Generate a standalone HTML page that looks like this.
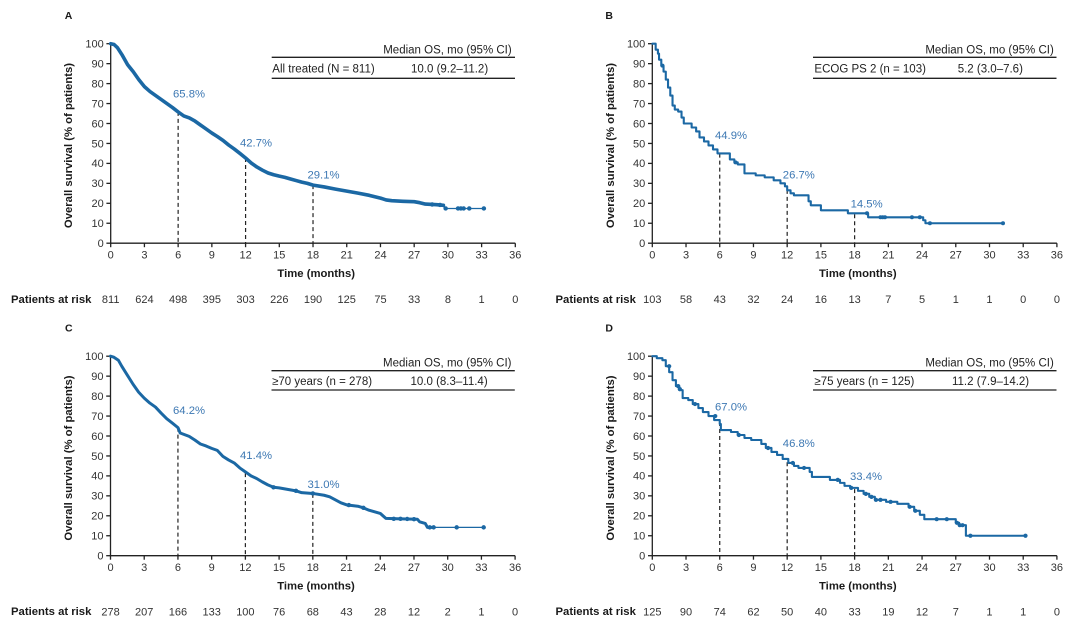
<!DOCTYPE html>
<html><head><meta charset="utf-8"><style>
html,body{margin:0;padding:0;background:#fff;}
svg{display:block;}
text{font-family:"Liberation Sans",Arial,sans-serif;}
.tk{font-size:11px;fill:#333;}
.b{font-weight:bold;font-size:11.3px;fill:#1a1a1a;}
.lg{font-size:11.5px;fill:#222;}
.an{font-size:11.3px;fill:#3d78b3;}
.ax{stroke:#222;stroke-width:1.3;fill:none;}
.ds{stroke:#222;stroke-width:1.2;stroke-dasharray:4,3;fill:none;}
.cv{fill:none;stroke:#1b68a4;stroke-linejoin:round;stroke-linecap:round;}
.mk{fill:#1b68a4;}
</style></head><body>
<svg width="1080" height="627" viewBox="0 0 1080 627" xmlns="http://www.w3.org/2000/svg">
<rect width="1080" height="627" fill="#fff"/>
<defs>
<g id="axes">
  <line class="ax" x1="0" y1="0.6" x2="0" y2="-200"/>
  <line class="ax" x1="-0.6" y1="0" x2="404.6" y2="0"/>
  <g class="ax">
    <line x1="-4.3" y1="0" x2="0" y2="0"/><line x1="-4.3" y1="-19.95" x2="0" y2="-19.95"/><line x1="-4.3" y1="-39.9" x2="0" y2="-39.9"/><line x1="-4.3" y1="-59.85" x2="0" y2="-59.85"/><line x1="-4.3" y1="-79.8" x2="0" y2="-79.8"/><line x1="-4.3" y1="-99.75" x2="0" y2="-99.75"/><line x1="-4.3" y1="-119.7" x2="0" y2="-119.7"/><line x1="-4.3" y1="-139.65" x2="0" y2="-139.65"/><line x1="-4.3" y1="-159.6" x2="0" y2="-159.6"/><line x1="-4.3" y1="-179.55" x2="0" y2="-179.55"/><line x1="-4.3" y1="-199.5" x2="0" y2="-199.5"/>
    <line x1="0" y1="0" x2="0" y2="4"/><line x1="33.72" y1="0" x2="33.72" y2="4"/><line x1="67.44" y1="0" x2="67.44" y2="4"/><line x1="101.16" y1="0" x2="101.16" y2="4"/><line x1="134.88" y1="0" x2="134.88" y2="4"/><line x1="168.6" y1="0" x2="168.6" y2="4"/><line x1="202.32" y1="0" x2="202.32" y2="4"/><line x1="236.04" y1="0" x2="236.04" y2="4"/><line x1="269.76" y1="0" x2="269.76" y2="4"/><line x1="303.48" y1="0" x2="303.48" y2="4"/><line x1="337.2" y1="0" x2="337.2" y2="4"/><line x1="370.92" y1="0" x2="370.92" y2="4"/><line x1="404.6" y1="0" x2="404.6" y2="4"/>
  </g>
</g>
</defs>

<!-- ================= PANEL A ================= -->
<g transform="translate(110.7,243.2)">
  <text class="b" x="-46" y="-224" style="font-size:10.5px">A</text>
  <use href="#axes"/>
  <g class="tk" text-anchor="end">
    <text x="-7" y="3.8">0</text><text x="-7" y="-16.15">10</text><text x="-7" y="-36.1">20</text><text x="-7" y="-56.05">30</text><text x="-7" y="-76">40</text><text x="-7" y="-95.95">50</text><text x="-7" y="-115.9">60</text><text x="-7" y="-135.85">70</text><text x="-7" y="-155.8">80</text><text x="-7" y="-175.75">90</text><text x="-7" y="-195.7">100</text>
  </g>
  <g class="tk" text-anchor="middle">
    <text x="0" y="15.5">0</text><text x="33.72" y="15.5">3</text><text x="67.44" y="15.5">6</text><text x="101.16" y="15.5">9</text><text x="134.88" y="15.5">12</text><text x="168.6" y="15.5">15</text><text x="202.32" y="15.5">18</text><text x="236.04" y="15.5">21</text><text x="269.76" y="15.5">24</text><text x="303.48" y="15.5">27</text><text x="337.2" y="15.5">30</text><text x="370.92" y="15.5">33</text><text x="404.6" y="15.5">36</text>
  </g>
  <text class="b" x="205.5" y="33.8" text-anchor="middle">Time (months)</text>
  <text class="b" transform="translate(-38.5,-97.7) rotate(-90)" text-anchor="middle">Overall survival (% of patients)</text>
  <text class="b" x="-99.7" y="59.8">Patients at risk</text>
  <g class="tk" text-anchor="middle">
    <text x="0" y="60">811</text><text x="33.72" y="60">624</text><text x="67.44" y="60">498</text><text x="101.16" y="60">395</text><text x="134.88" y="60">303</text><text x="168.6" y="60">226</text><text x="202.32" y="60">190</text><text x="236.04" y="60">125</text><text x="269.76" y="60">75</text><text x="303.48" y="60">33</text><text x="337.2" y="60">8</text><text x="370.92" y="60">1</text><text x="404.6" y="60">0</text>
  </g>
  <!-- legend -->
  <line class="ax" x1="161" y1="-185.9" x2="404.3" y2="-185.9"/>
  <line class="ax" x1="161" y1="-164.9" x2="404.3" y2="-164.9"/>
  <text class="lg" x="401" y="-189.7" text-anchor="end">Median OS, mo (95% CI)</text>
  <text class="lg" x="161.6" y="-170.6">All treated (N = 811)</text>
  <text class="lg" x="300.3" y="-170.6">10.0 (9.2–11.2)</text>
  <!-- dashed -->
  <line class="ds" x1="67.44" y1="-131.3" x2="67.44" y2="0"/>
  <line class="ds" x1="134.88" y1="-85.2" x2="134.88" y2="0"/>
  <line class="ds" x1="202.32" y1="-58.1" x2="202.32" y2="0"/>
  <text class="an" x="62.3" y="-145.7">65.8%</text>
  <text class="an" x="129.3" y="-96.7">42.7%</text>
  <text class="an" x="196.8" y="-64.7">29.1%</text>
  <g transform="scale(11.24,-1.995)">
    <polyline class="cv" vector-effect="non-scaling-stroke" stroke-width="3.6" points="0,100 0.3,99.6 0.6,98 1,94.5 1.5,89.5 2,86 2.5,82 3,78.5 3.5,76 4,74 4.5,72 5,70 5.5,68 6,65.8 6.5,63.8 7,62.8 7.5,61.2 8,59.2 8.5,57.2 9,55.2 9.5,53.4 10,51.5 10.5,49.2 11,47.2 11.5,45 12,42.7 12.5,40.2 13,38.2 13.5,36.6 14,35.2 14.5,34.3 15,33.6 15.5,33 16,32.2 16.5,31.4 17,30.6 17.5,30 18,29.1 19,28.2 20,27.1 21,26.1 22,25.1 23,24 24,22.6 24.5,21.7 25,21.3 26,21 27,20.8 27.5,20.3 28,19.6 29,19.3 29.6,19"/>
    <polyline class="cv" vector-effect="non-scaling-stroke" stroke-width="1.3" points="29.6,19 29.7,17.4 33.2,17.4"/>
    <g class="mk">
      <ellipse cx="29.8" cy="17.4" rx="0.2" ry="1.1"/><ellipse cx="30.9" cy="17.4" rx="0.2" ry="1.1"/><ellipse cx="31.15" cy="17.4" rx="0.2" ry="1.1"/><ellipse cx="31.4" cy="17.4" rx="0.2" ry="1.1"/><ellipse cx="31.9" cy="17.4" rx="0.2" ry="1.1"/><ellipse cx="33.2" cy="17.4" rx="0.2" ry="1.1"/>
      <ellipse cx="29.3" cy="19.2" rx="0.2" ry="1.1"/><ellipse cx="28.6" cy="19.4" rx="0.2" ry="1.1"/>
    </g>
  </g>
</g>

<!-- ================= PANEL B ================= -->
<g transform="translate(652.3,243.2)">
  <text class="b" x="-46.9" y="-224" style="font-size:10.5px">B</text>
  <use href="#axes"/>
  <g class="tk" text-anchor="end">
    <text x="-7" y="3.8">0</text><text x="-7" y="-16.15">10</text><text x="-7" y="-36.1">20</text><text x="-7" y="-56.05">30</text><text x="-7" y="-76">40</text><text x="-7" y="-95.95">50</text><text x="-7" y="-115.9">60</text><text x="-7" y="-135.85">70</text><text x="-7" y="-155.8">80</text><text x="-7" y="-175.75">90</text><text x="-7" y="-195.7">100</text>
  </g>
  <g class="tk" text-anchor="middle">
    <text x="0" y="15.5">0</text><text x="33.72" y="15.5">3</text><text x="67.44" y="15.5">6</text><text x="101.16" y="15.5">9</text><text x="134.88" y="15.5">12</text><text x="168.6" y="15.5">15</text><text x="202.32" y="15.5">18</text><text x="236.04" y="15.5">21</text><text x="269.76" y="15.5">24</text><text x="303.48" y="15.5">27</text><text x="337.2" y="15.5">30</text><text x="370.92" y="15.5">33</text><text x="404.6" y="15.5">36</text>
  </g>
  <text class="b" x="205.5" y="33.8" text-anchor="middle">Time (months)</text>
  <text class="b" transform="translate(-38.5,-97.7) rotate(-90)" text-anchor="middle">Overall survival (% of patients)</text>
  <text class="b" x="-96.8" y="59.8">Patients at risk</text>
  <g class="tk" text-anchor="middle">
    <text x="0" y="60">103</text><text x="33.72" y="60">58</text><text x="67.44" y="60">43</text><text x="101.16" y="60">32</text><text x="134.88" y="60">24</text><text x="168.6" y="60">16</text><text x="202.32" y="60">13</text><text x="236.04" y="60">7</text><text x="269.76" y="60">5</text><text x="303.48" y="60">1</text><text x="337.2" y="60">1</text><text x="370.92" y="60">0</text><text x="404.6" y="60">0</text>
  </g>
  <line class="ax" x1="160.7" y1="-185.9" x2="404.2" y2="-185.9"/>
  <line class="ax" x1="160.7" y1="-164.9" x2="404.2" y2="-164.9"/>
  <text class="lg" x="401.5" y="-189.7" text-anchor="end">Median OS, mo (95% CI)</text>
  <text class="lg" x="162.1" y="-170.6">ECOG PS 2 (n = 103)</text>
  <text class="lg" x="305.4" y="-170.6">5.2 (3.0–7.6)</text>
  <line class="ds" x1="67.44" y1="-89.6" x2="67.44" y2="0"/>
  <line class="ds" x1="134.88" y1="-53.3" x2="134.88" y2="0"/>
  <line class="ds" x1="202.32" y1="-28.9" x2="202.32" y2="0"/>
  <text class="an" x="62.7" y="-104.4">44.9%</text>
  <text class="an" x="130.5" y="-64.7">26.7%</text>
  <text class="an" x="198.3" y="-35.7">14.5%</text>
  <g transform="scale(11.24,-1.995)">
    <polyline class="cv" vector-effect="non-scaling-stroke" stroke-width="2.1" stroke-linejoin="miter" stroke-linecap="butt" points="0,100 0.3,100 0.3,97 0.5,97 0.5,95 0.6,95 0.6,92 0.8,92 0.8,89 1.0,89 1.0,86 1.2,86 1.2,82 1.4,82 1.4,78 1.6,78 1.6,74 1.8,74 1.8,69 2.0,69 2.0,67 2.3,67 2.3,66 2.6,66 2.6,63 2.8,63 2.8,60 3.5,60 3.5,58 3.9,58 3.9,56 4.2,56 4.2,53 4.6,53 4.6,51 5.0,51 5.0,49 5.4,49 5.4,47 5.8,47 5.8,45 6.9,45 6.9,42 7.3,42 7.3,40.5 7.6,40.5 7.6,39.5 8.2,39.5 8.2,35 9.2,35 9.2,34 10,34 10,33 10.8,33 10.8,31.5 11.4,31.5 11.4,30 11.8,30 11.8,28.5 12.0,28.5 12.0,26.5 12.3,26.5 12.3,25 12.6,25 12.6,24 13.9,24 13.9,21 14.1,21 14.1,19 15,19 15,16.5 17.4,16.5 17.4,15 19.2,15 19.2,13 24.1,13 24.1,11.5 24.3,11.5 24.3,10 31.2,10"/>
    <g class="mk">
      <ellipse cx="0.9" cy="89" rx="0.18" ry="1"/><ellipse cx="7.4" cy="40.5" rx="0.18" ry="1"/><ellipse cx="19.1" cy="15" rx="0.18" ry="1"/><ellipse cx="20.3" cy="13" rx="0.18" ry="1"/><ellipse cx="20.5" cy="13" rx="0.18" ry="1"/><ellipse cx="20.7" cy="13" rx="0.18" ry="1"/><ellipse cx="23.1" cy="13" rx="0.18" ry="1"/><ellipse cx="23.8" cy="13" rx="0.18" ry="1"/><ellipse cx="24.7" cy="10" rx="0.18" ry="1"/><ellipse cx="31.2" cy="10" rx="0.18" ry="1"/>
    </g>
  </g>
</g>

<!-- ================= PANEL C ================= -->
<g transform="translate(110.5,555.7)">
  <text class="b" x="-45.5" y="-224.2" style="font-size:10.5px">C</text>
  <use href="#axes"/>
  <g class="tk" text-anchor="end">
    <text x="-7" y="3.8">0</text><text x="-7" y="-16.15">10</text><text x="-7" y="-36.1">20</text><text x="-7" y="-56.05">30</text><text x="-7" y="-76">40</text><text x="-7" y="-95.95">50</text><text x="-7" y="-115.9">60</text><text x="-7" y="-135.85">70</text><text x="-7" y="-155.8">80</text><text x="-7" y="-175.75">90</text><text x="-7" y="-195.7">100</text>
  </g>
  <g class="tk" text-anchor="middle">
    <text x="0" y="15.5">0</text><text x="33.72" y="15.5">3</text><text x="67.44" y="15.5">6</text><text x="101.16" y="15.5">9</text><text x="134.88" y="15.5">12</text><text x="168.6" y="15.5">15</text><text x="202.32" y="15.5">18</text><text x="236.04" y="15.5">21</text><text x="269.76" y="15.5">24</text><text x="303.48" y="15.5">27</text><text x="337.2" y="15.5">30</text><text x="370.92" y="15.5">33</text><text x="404.6" y="15.5">36</text>
  </g>
  <text class="b" x="205.5" y="33.8" text-anchor="middle">Time (months)</text>
  <text class="b" transform="translate(-38.5,-97.7) rotate(-90)" text-anchor="middle">Overall survival (% of patients)</text>
  <text class="b" x="-99.5" y="59.4">Patients at risk</text>
  <g class="tk" text-anchor="middle">
    <text x="0" y="59.6">278</text><text x="33.72" y="59.6">207</text><text x="67.44" y="59.6">166</text><text x="101.16" y="59.6">133</text><text x="134.88" y="59.6">100</text><text x="168.6" y="59.6">76</text><text x="202.32" y="59.6">68</text><text x="236.04" y="59.6">43</text><text x="269.76" y="59.6">28</text><text x="303.48" y="59.6">12</text><text x="337.2" y="59.6">2</text><text x="370.92" y="59.6">1</text><text x="404.6" y="59.6">0</text>
  </g>
  <line class="ax" x1="161" y1="-185" x2="404.3" y2="-185"/>
  <line class="ax" x1="161" y1="-165.7" x2="404.3" y2="-165.7"/>
  <text class="lg" x="401" y="-189.2" text-anchor="end">Median OS, mo (95% CI)</text>
  <text class="lg" x="161.6" y="-170.7">≥70 years (n = 278)</text>
  <text class="lg" x="300" y="-170.7">10.0 (8.3–11.4)</text>
  <line class="ds" x1="67.44" y1="-128.1" x2="67.44" y2="0"/>
  <line class="ds" x1="134.88" y1="-82.6" x2="134.88" y2="0"/>
  <line class="ds" x1="202.32" y1="-61.8" x2="202.32" y2="0"/>
  <text class="an" x="62.5" y="-141.7">64.2%</text>
  <text class="an" x="129.5" y="-96.7">41.4%</text>
  <text class="an" x="197" y="-67.7">31.0%</text>
  <g transform="scale(11.24,-1.995)">
    <polyline class="cv" vector-effect="non-scaling-stroke" stroke-width="3" points="0,100 0.3,99.5 0.7,98 1,95 1.5,90.5 2,86 2.5,82 3,79 3.5,76.5 4,74.5 4.5,71.5 5,68.7 5.5,66.5 6,64.2 6.2,61.5 7,59.8 7.5,58 8,56 8.5,55 9,53.8 9.5,52.8 10,49.8 10.5,48 11,46.5 11.5,44 12,42 12.5,40 13,38.7 13.5,37 14,35.5 14.5,34.3 15,34 16,33 16.5,32.5 17,31.6 18,31.2 19,30.3 19.5,29.5 20,28 20.5,26.5 21,25.5 22,24.8 22.5,24 23,22.8 23.5,22 24,21.2 24.5,18.7 25.5,18.5 27.3,18.3 27.5,17 28,16.2 28.2,14.2 28.8,14.2"/>
    <polyline class="cv" vector-effect="non-scaling-stroke" stroke-width="1.3" points="28.8,14.2 33.2,14.2"/>
    <g class="mk">
      <ellipse cx="14.5" cy="34.3" rx="0.2" ry="1.1"/><ellipse cx="16.5" cy="32.5" rx="0.2" ry="1.1"/><ellipse cx="18" cy="31.2" rx="0.2" ry="1.1"/><ellipse cx="21.2" cy="25.4" rx="0.2" ry="1.1"/><ellipse cx="22.5" cy="24" rx="0.2" ry="1.1"/><ellipse cx="25.2" cy="18.5" rx="0.2" ry="1.1"/><ellipse cx="25.8" cy="18.5" rx="0.2" ry="1.1"/><ellipse cx="26.4" cy="18.4" rx="0.2" ry="1.1"/><ellipse cx="27" cy="18.3" rx="0.2" ry="1.1"/>
      <ellipse cx="28.4" cy="14.2" rx="0.2" ry="1.1"/><ellipse cx="28.75" cy="14.2" rx="0.2" ry="1.1"/><ellipse cx="30.8" cy="14.2" rx="0.2" ry="1.1"/><ellipse cx="33.2" cy="14.2" rx="0.2" ry="1.1"/>
    </g>
  </g>
</g>

<!-- ================= PANEL D ================= -->
<g transform="translate(652.3,555.7)">
  <text class="b" x="-46.9" y="-224.2" style="font-size:10.5px">D</text>
  <use href="#axes"/>
  <g class="tk" text-anchor="end">
    <text x="-7" y="3.8">0</text><text x="-7" y="-16.15">10</text><text x="-7" y="-36.1">20</text><text x="-7" y="-56.05">30</text><text x="-7" y="-76">40</text><text x="-7" y="-95.95">50</text><text x="-7" y="-115.9">60</text><text x="-7" y="-135.85">70</text><text x="-7" y="-155.8">80</text><text x="-7" y="-175.75">90</text><text x="-7" y="-195.7">100</text>
  </g>
  <g class="tk" text-anchor="middle">
    <text x="0" y="15.5">0</text><text x="33.72" y="15.5">3</text><text x="67.44" y="15.5">6</text><text x="101.16" y="15.5">9</text><text x="134.88" y="15.5">12</text><text x="168.6" y="15.5">15</text><text x="202.32" y="15.5">18</text><text x="236.04" y="15.5">21</text><text x="269.76" y="15.5">24</text><text x="303.48" y="15.5">27</text><text x="337.2" y="15.5">30</text><text x="370.92" y="15.5">33</text><text x="404.6" y="15.5">36</text>
  </g>
  <text class="b" x="205.5" y="33.8" text-anchor="middle">Time (months)</text>
  <text class="b" transform="translate(-38.5,-97.7) rotate(-90)" text-anchor="middle">Overall survival (% of patients)</text>
  <text class="b" x="-96.8" y="59.4">Patients at risk</text>
  <g class="tk" text-anchor="middle">
    <text x="0" y="59.6">125</text><text x="33.72" y="59.6">90</text><text x="67.44" y="59.6">74</text><text x="101.16" y="59.6">62</text><text x="134.88" y="59.6">50</text><text x="168.6" y="59.6">40</text><text x="202.32" y="59.6">33</text><text x="236.04" y="59.6">19</text><text x="269.76" y="59.6">12</text><text x="303.48" y="59.6">7</text><text x="337.2" y="59.6">1</text><text x="370.92" y="59.6">1</text><text x="404.6" y="59.6">0</text>
  </g>
  <line class="ax" x1="160.7" y1="-185" x2="404.2" y2="-185"/>
  <line class="ax" x1="160.7" y1="-165.7" x2="404.2" y2="-165.7"/>
  <text class="lg" x="401.5" y="-189.2" text-anchor="end">Median OS, mo (95% CI)</text>
  <text class="lg" x="162.1" y="-170.7">≥75 years (n = 125)</text>
  <text class="lg" x="299.7" y="-170.7">11.2 (7.9–14.2)</text>
  <line class="ds" x1="67.44" y1="-133.7" x2="67.44" y2="0"/>
  <line class="ds" x1="134.88" y1="-93.4" x2="134.88" y2="0"/>
  <line class="ds" x1="202.32" y1="-66.6" x2="202.32" y2="0"/>
  <text class="an" x="62.7" y="-145.2">67.0%</text>
  <text class="an" x="130.5" y="-108.7">46.8%</text>
  <text class="an" x="197.7" y="-75.7">33.4%</text>
  <g transform="scale(11.24,-1.995)">
    <polyline class="cv" vector-effect="non-scaling-stroke" stroke-width="2.1" points="0,100 0.4,100 0.4,99 0.9,99 0.9,98 1.2,98 1.2,95 1.5,95 1.5,92 1.8,92 1.8,88 2.1,88 2.1,85 2.4,85 2.4,83 2.7,83 2.7,79 3.2,79 3.2,78 3.6,78 3.6,76 4.1,76 4.1,74 4.5,74 4.5,72 5,72 5,70 5.5,70 5.5,68 6,68 6,66 6.1,66 6.1,63 7,63 7,62 7.6,62 7.6,60.5 8.2,60.5 8.2,59 8.8,59 8.8,58 9.7,58 9.7,56 10.1,56 10.1,54 10.6,54 10.6,52 11.1,52 11.1,50.5 11.6,50.5 11.6,48.5 12.1,48.5 12.1,46.5 12.6,46.5 12.6,45 13,45 13,44 14,44 14,42 14.2,42 14.2,39.5 15.8,39.5 15.8,38 16.7,38 16.7,36.5 17.1,36.5 17.1,35 17.6,35 17.6,34 18.3,34 18.3,32.5 18.8,32.5 18.8,31 19.3,31 19.3,29.5 19.8,29.5 19.8,28 20.8,28 20.8,27 21.8,27 21.8,26 22.8,26 22.8,24.5 23.3,24.5 23.3,22.5 23.8,22.5 23.8,20.5 24.2,20.5 24.2,18.3 27.0,18.3 27.0,16.5 27.3,16.5 27.3,15.3 27.9,15.3 27.9,10 33.2,10"/>
    <g class="mk">
      <ellipse cx="1.5" cy="95" rx="0.19" ry="1.05"/><ellipse cx="2.3" cy="85" rx="0.19" ry="1.05"/><ellipse cx="2.45" cy="83.5" rx="0.19" ry="1.05"/><ellipse cx="3.8" cy="76" rx="0.19" ry="1.05"/><ellipse cx="5.6" cy="70" rx="0.19" ry="1.05"/><ellipse cx="7.7" cy="60.5" rx="0.19" ry="1.05"/><ellipse cx="10.3" cy="54" rx="0.19" ry="1.05"/><ellipse cx="12.5" cy="46.5" rx="0.19" ry="1.05"/><ellipse cx="13.5" cy="44" rx="0.19" ry="1.05"/><ellipse cx="16.5" cy="38" rx="0.19" ry="1.05"/><ellipse cx="17.7" cy="34" rx="0.19" ry="1.05"/><ellipse cx="19" cy="31" rx="0.19" ry="1.05"/><ellipse cx="19.5" cy="29.5" rx="0.19" ry="1.05"/><ellipse cx="19.9" cy="28" rx="0.19" ry="1.05"/><ellipse cx="20.3" cy="28" rx="0.19" ry="1.05"/><ellipse cx="21.2" cy="27" rx="0.19" ry="1.05"/><ellipse cx="22.9" cy="24.5" rx="0.19" ry="1.05"/><ellipse cx="23.4" cy="22.5" rx="0.19" ry="1.05"/><ellipse cx="25.3" cy="18.3" rx="0.19" ry="1.05"/><ellipse cx="26.2" cy="18.3" rx="0.19" ry="1.05"/><ellipse cx="27.1" cy="16.5" rx="0.19" ry="1.05"/><ellipse cx="27.35" cy="15.3" rx="0.19" ry="1.05"/><ellipse cx="27.6" cy="15.3" rx="0.19" ry="1.05"/><ellipse cx="28.3" cy="10" rx="0.19" ry="1.05"/><ellipse cx="33.2" cy="10" rx="0.19" ry="1.05"/>
    </g>
  </g>
</g>
</svg>
</body></html>
